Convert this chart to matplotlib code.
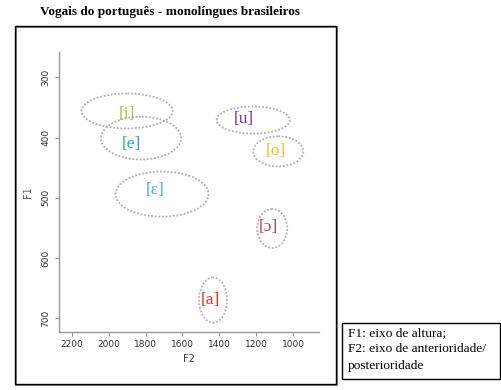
import matplotlib
matplotlib.use("Agg")
import matplotlib.pyplot as plt
from matplotlib.patches import Ellipse, Rectangle

# vowel data (Hz)
vowels = ["[i]", "[e]", "[u]", "[o]", "[ɛ]", "[ɔ]", "[a]"]
f2_center = [1901, 1825, 1216, 1080, 1711, 1113, 1434]
f1_center = [356, 401, 371, 423, 494, 551, 670]
f2_width = [495, 435, 397, 272, 505, 163, 152]
f1_height = [58, 71, 45, 50, 75, 65, 75]
label_f2 = [1901, 1876, 1265, 1093, 1749, 1135, 1450]
label_f1 = [361, 410, 370, 423, 488, 549, 670]
colors = ["#a6c93a", "#1ea6e8", "#7a3aa6", "#ffbb22", "#4aaed2", "#c0404e", "#ff2424"]

x_ticks = [2200, 2000, 1800, 1600, 1400, 1200, 1000]
y_ticks = [300, 400, 500, 600, 700]

W, H = 501, 390
fig = plt.figure(figsize=(W / 100, H / 100), dpi=100)


def fx(px):
    return px / W


def fy(py):
    return 1 - py / H


ax = fig.add_axes([fx(59), fy(332), fx(319) - fx(59), fy(52) - fy(332)])

for i in range(len(vowels)):
    e = Ellipse((f2_center[i], f1_center[i]), f2_width[i], f1_height[i],
                fill=False, edgecolor="#b0b0b0", linestyle=(0, (1, 1)), lw=1.3)
    ax.add_patch(e)
    ax.text(label_f2[i], label_f1[i], vowels[i], color=colors[i],
            fontsize=12.5, family=["Liberation Serif", "DejaVu Serif"],
            ha="center", va="center")

ax.set_xlim(2270, 859)
ax.set_ylim(723, 258)
ax.set_xticks(x_ticks)
ax.set_yticks(y_ticks)
ax.set_xticklabels([str(t) for t in x_ticks])
ax.set_yticklabels([str(t) for t in y_ticks], rotation=90, va="center")

for s in ["top", "right"]:
    ax.spines[s].set_visible(False)
for s in ["left", "bottom"]:
    ax.spines[s].set_color("#999999")
    ax.spines[s].set_linewidth(1.0)
ax.tick_params(colors="#999999", labelcolor="#333333", labelsize=6.5,
               length=3, width=0.8, pad=3)
ax.set_xlabel("F2", fontsize=7, color="#333333", labelpad=3)
ax.set_ylabel("F1", fontsize=7, color="#555555", labelpad=6)

# title and frames
fig.text(fx(170), fy(12), "Vogais do português - monolíngues brasileiros",
         ha="center", va="center", fontsize=9.5, fontweight="bold",
         family="Liberation Serif")

fig.add_artist(Rectangle((fx(16), fy(385)), fx(337) - fx(16), fy(27) - fy(385),
                         transform=fig.transFigure, fill=False,
                         edgecolor="#777777", lw=1.3))
fig.add_artist(Rectangle((fx(15), fy(384)), fx(336) - fx(15), fy(26) - fy(384),
                         transform=fig.transFigure, fill=False,
                         edgecolor="black", lw=1.0))

fig.add_artist(Rectangle((fx(342), fy(379)), fx(500) - fx(342), fy(323) - fy(379),
                         transform=fig.transFigure, fill=False,
                         edgecolor="black", lw=1.0))
note = ["F1: eixo de altura;", "F2: eixo de anterioridade/", "posterioridade"]
for k, line in enumerate(note):
    fig.text(fx(348), fy(333 + 16.5 * k), line, ha="left", va="center",
             fontsize=9.6, family="Liberation Serif")

fig.savefig("out.png", dpi=100)
